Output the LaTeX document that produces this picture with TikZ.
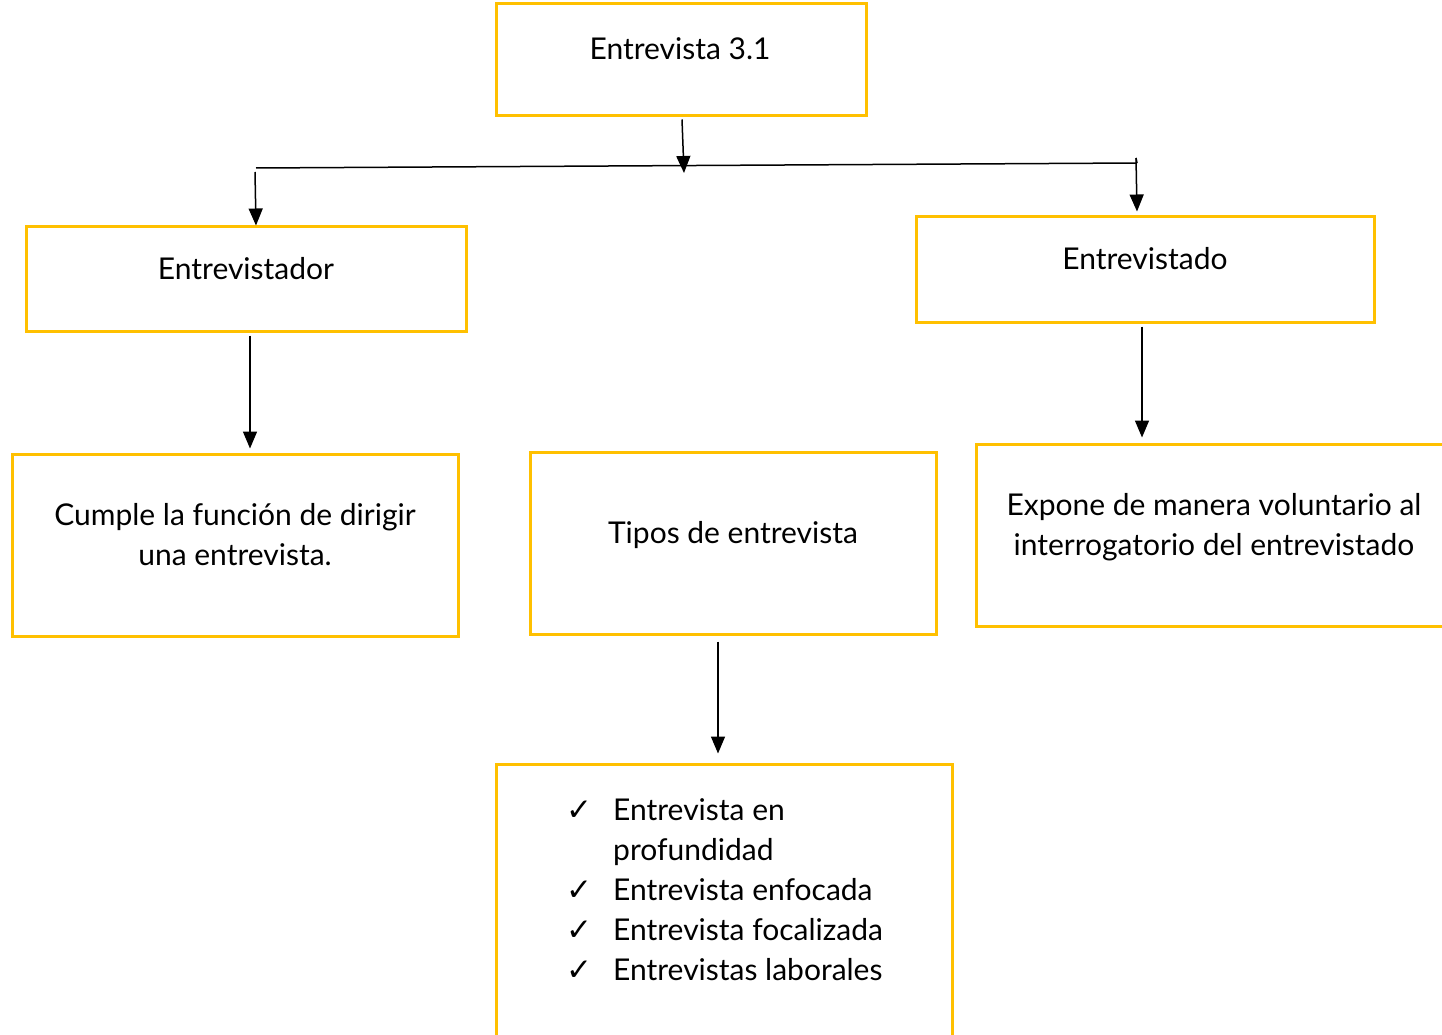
\documentclass[tikz,border=0pt]{standalone}
\usepackage{fontspec}
\setmainfont{Lato}
\newfontfamily\symfont{DejaVu Sans}
\usetikzlibrary{arrows.meta,calc}
\definecolor{boxyellow}{HTML}{FFC000}
\newcommand{\chk}{\makebox[47pt][l]{\symfont\fontsize{31}{40}\selectfont ✓}}
\begin{document}
\begin{tikzpicture}[x=1pt,y=-1pt,
  box/.style={draw=boxyellow,line width=3pt,rectangle,inner sep=0pt},
  txt/.style={font=\fontsize{30}{40}\selectfont,inner sep=0pt,align=center},
  conn/.style={draw=black,line width=1.5pt,-{Triangle[length=17pt,width=14pt]}},
  plain/.style={draw=black,line width=1.5pt}]
\useasboundingbox (0,0) rectangle (1442,1035);
% boxes
\node[box,minimum width=370pt,minimum height=112pt] (top) at (681,60) {};
\node[box,minimum width=440pt,minimum height=105pt] (dor) at (246,278.5) {};
\node[box,minimum width=458pt,minimum height=106pt] (do) at (1145,269) {};
\node[box,minimum width=446pt,minimum height=182pt] (cum) at (235,545) {};
\node[box,minimum width=406pt,minimum height=182pt] (tip) at (733,543) {};
\node[box,minimum width=480pt,minimum height=182pt] (exp) at (1216,535) {};
\node[box,minimum width=456pt,minimum height=290pt] (lst) at (724,909) {};
% texts
\node[txt,anchor=base] (ttop) at (680,60) {Entrevista 3.1};
\node[txt,anchor=base] (tdor) at (246,279) {Entrevistador};
\node[txt,anchor=base] (tdo) at (1145,269) {Entrevistado};
\node[txt,anchor=base] (tcum) at (235,565) {Cumple la función de dirigir\\una entrevista.};
\node[txt,anchor=base] (ttip) at (733,543) {Tipos de entrevista};
\node[txt,anchor=base] (texp) at (1214,555) {Expone de manera voluntario al\\interrogatorio del entrevistado};
\node[txt,anchor=base west,align=left] (tlst) at (566,820) {\begin{tabular}[t]{@{}l@{}l@{}}
\chk & Entrevista en\\
\makebox[47pt]{} & profundidad\\
\chk & Entrevista enfocada\\
\chk & Entrevista focalizada\\
\chk & Entrevistas laborales
\end{tabular}};
% connectors
\coordinate (hl) at (256,168);
\coordinate (hr) at (1137,163);
\coordinate (hmid) at (684,173);
\coordinate (hrtop) at (1136,158);
\coordinate (hlarr) at (255,172);
\draw[plain] (hl) -- (hr);
\draw[plain] (hrtop) -- (hr);
\draw[conn] ($(top.south)+(1,2)$) -- (hmid);
\draw[conn] (hlarr) -- ($(dor.north)+(10,1)$);
\draw[conn] (hrtop) -- ($(do.north)+(-8,-3)$);
\draw[conn] ($(dor.south)+(4,3)$) -- ($(cum.north)+(15,-4)$);
\draw[conn] ($(do.south)+(-3,3)$) -- ($(exp.north)+(-74,-5)$);
\draw[conn] ($(tip.south)+(-15,6)$) -- ($(lst.north)+(-6,-9)$);
\end{tikzpicture}
\end{document}
